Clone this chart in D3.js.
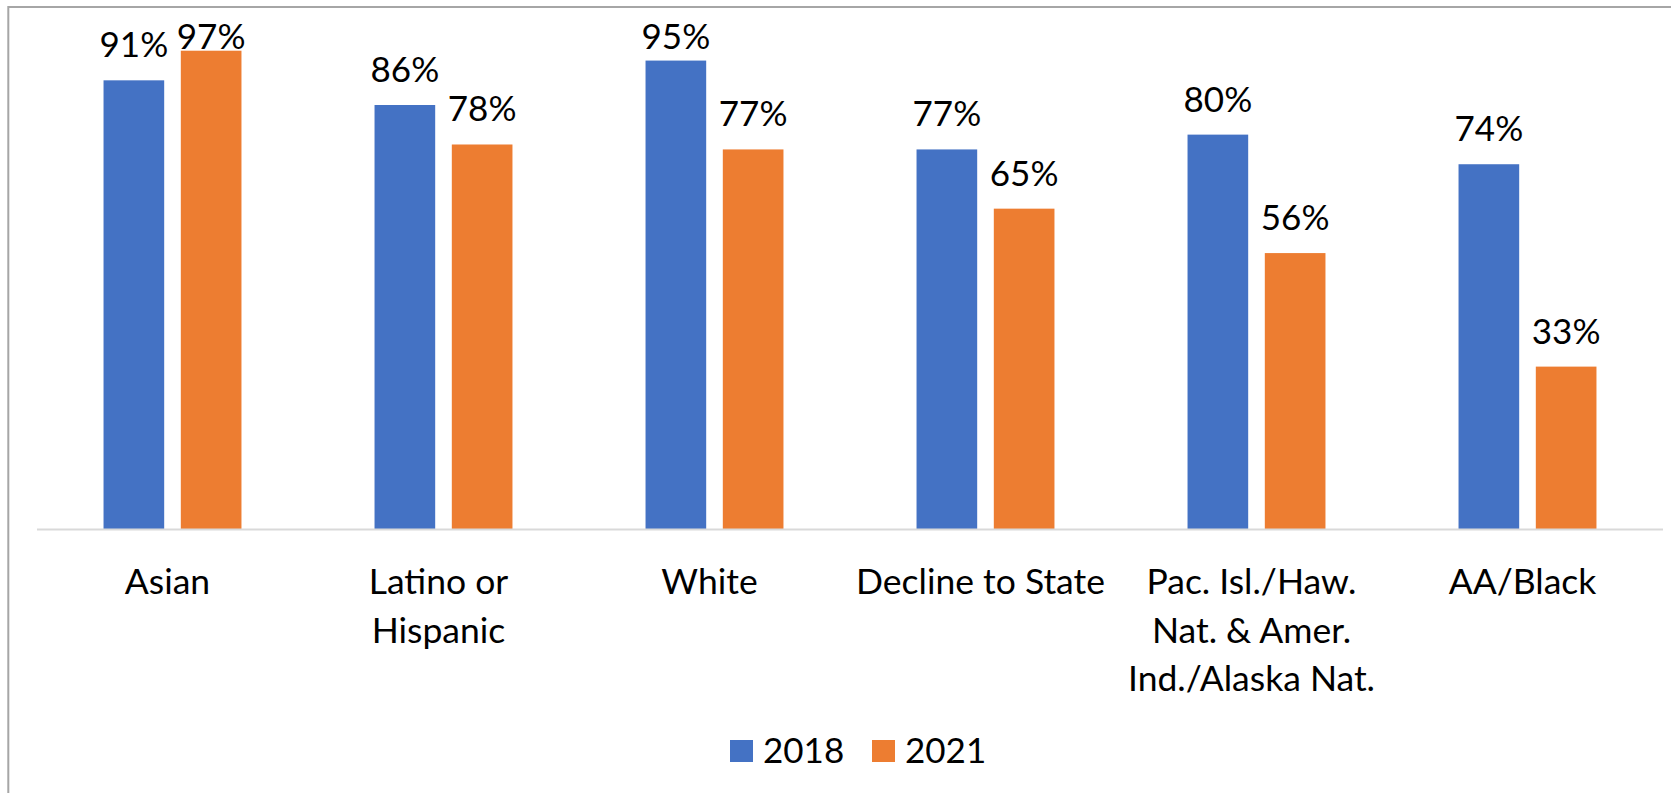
<!DOCTYPE html>
<html>
<head>
<meta charset="utf-8">
<script src="https://cdn.jsdelivr.net/npm/d3@7"></script>
<style>
  html, body { margin: 0; padding: 0; background: #fff; }
  svg { display: block; }
  text { font-family: Lato, "Open Sans", sans-serif; fill: #000; }
</style>
</head>
<body>
<svg id="chart" width="1671" height="793"></svg>
<script>
const categories = [
  ["Asian"],
  ["Latino or", "Hispanic"],
  ["White"],
  ["Decline to State"],
  ["Pac. Isl./Haw.", "Nat. & Amer.", "Ind./Alaska Nat."],
  ["AA/Black"]
];
const seriesNames = ["2018", "2021"];
const values2018 = [0.91, 0.86, 0.95, 0.77, 0.80, 0.74];
const values2021 = [0.97, 0.78, 0.77, 0.65, 0.56, 0.33];
const colors = ["#4472C4", "#ED7D31"];

const W = 1671, H = 793;
const svg = d3.select("#chart");
const labelFont = 35;
const catFont = 35.5;

// chart border (extends off the right and bottom edges)
svg.append("rect")
  .attr("x", 8.3).attr("y", 7)
  .attr("width", W + 20).attr("height", H + 20)
  .attr("fill", "none").attr("stroke", "#a6a6a6").attr("stroke-width", 2);

const catKeys = categories.map(c => c.join(" "));
const x0 = d3.scaleBand().domain(catKeys).range([37, 1663])
  .paddingInner(0.491).paddingOuter(0.2455);
const x1 = d3.scaleBand().domain(seriesNames).range([0, x0.bandwidth()])
  .paddingInner(0.215).paddingOuter(0);
const y = d3.scaleLinear().domain([0, 1]).range([529.5, 35.9]);

const data = catKeys.map((k, i) => ({
  key: k,
  lines: categories[i],
  vals: [
    { s: seriesNames[0], v: values2018[i], c: colors[0] },
    { s: seriesNames[1], v: values2021[i], c: colors[1] }
  ]
}));

const groups = svg.append("g").selectAll("g.grp").data(data).join("g")
  .attr("class", "grp")
  .attr("transform", d => `translate(${x0(d.key)},0)`);

groups.selectAll("rect").data(d => d.vals).join("rect")
  .attr("x", d => x1(d.s))
  .attr("width", x1.bandwidth())
  .attr("y", d => y(d.v))
  .attr("height", d => y(0) - y(d.v))
  .attr("fill", d => d.c);

groups.selectAll("text.lbl").data(d => d.vals).join("text")
  .attr("class", "lbl")
  .attr("x", d => x1(d.s) + x1.bandwidth() / 2)
  .attr("y", d => Math.max(y(d.v) - 23, 49))
  .attr("text-anchor", "middle")
  .attr("font-size", labelFont)
  .text(d => d3.format(".0%")(d.v));

// baseline
svg.append("line")
  .attr("x1", 37).attr("x2", 1663)
  .attr("y1", y(0)).attr("y2", y(0))
  .attr("stroke", "#d9d9d9").attr("stroke-width", 2);

// category labels
const catX = d => x0(d.key) + x0.bandwidth() / 2 - 5;
const catG = svg.append("g").selectAll("text.cat").data(data).join("text")
  .attr("class", "cat")
  .attr("text-anchor", "middle")
  .attr("font-size", catFont)
  .attr("x", catX)
  .attr("y", 594);
catG.selectAll("tspan").data(d => d.lines.map(l => ({ l, x: catX(d) }))).join("tspan")
  .attr("x", d => d.x)
  .attr("dy", (d, i) => i === 0 ? 0 : 48.5)
  .text(d => d.l);

// legend
const legendX = [730, 872];
const leg = svg.append("g").selectAll("g").data(seriesNames).join("g")
  .attr("transform", (d, i) => `translate(${legendX[i]},0)`);
leg.append("rect").attr("x", 0).attr("y", 740).attr("width", 23).attr("height", 22)
  .attr("fill", (d, i) => colors[i]);
leg.append("text").attr("x", 33).attr("y", 763).attr("font-size", labelFont).text(d => d);
</script>
</body>
</html>
